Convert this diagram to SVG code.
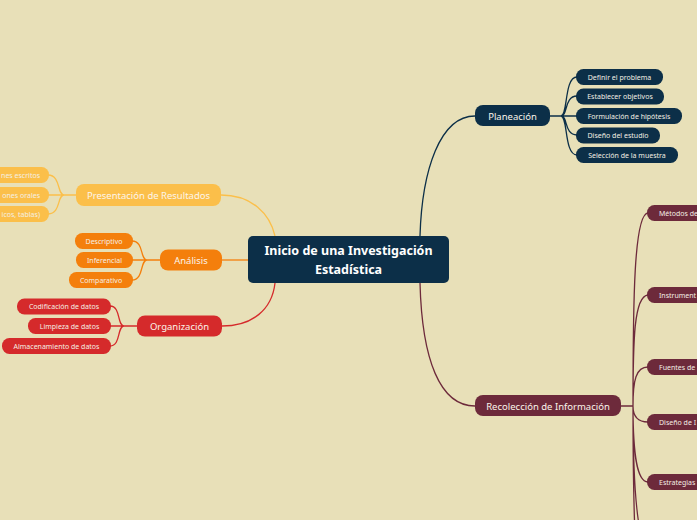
<svg xmlns="http://www.w3.org/2000/svg" width="697" height="520" viewBox="0 0 697 520">
<style>
text{font-family:"Noto Sans","Open Sans","DejaVu Sans",sans-serif;}
.c{fill:none;stroke-width:1.3;}
.t{fill:#f4efe4;font-size:7px;text-anchor:middle;}
.m{fill:#fbf5ea;font-size:9.5px;text-anchor:middle;}
.navy{fill:#0c2f48;}
.mar{fill:#6d2a3b;}
.yel{fill:#fbbf4a;}
.org{fill:#f47f0c;}
.red{fill:#d52a2b;}
</style>
<rect width="697" height="520" fill="#e8e0b8"/>
<g id="connectors">
  <path class="c" stroke="#0c2f48" d="M420,236 C422,170 440,116 475,116"/>
  <path class="c" stroke="#6d2a3b" d="M420,283 C422,360 440,406 475,406"/>
  <path class="c" stroke="#fbbf4a" d="M221,195 C252,195 270,214 275,236"/>
  <path class="c" stroke="#f47f0c" d="M222,260 L248,260"/>
  <path class="c" stroke="#d52a2b" d="M275,283 C272,310 252,326 222,326"/>
  <path class="c" stroke="#0c2f48" d="M550,116 L561,116 M561,116 C568,116 564,77 577,77 M561,116 C568,116 564,96 577,96 M561,116 L577,116 M561,116 C568,116 564,135 577,135 M561,116 C568,116 564,155 577,155"/>
  <path class="c" stroke="#6d2a3b" d="M621,406 L633,406 M633,406 C633,300 634,214 648,213 M633,406 C633,340 634,296 648,295 M633,406 C633,380 636,367 648,367 M633,406 C633,415 636,422 648,422 M633,406 C633,450 636,482 648,482 M633,406 C633,470 636,540 648,550 M633,406 C633,480 634,560 640,600"/>
  <path class="c" stroke="#fbbf4a" d="M76,195 L64,195 M64,195 C57,195 61,175 48,175 M64,195 L48,195 M64,195 C57,195 61,214 48,214"/>
  <path class="c" stroke="#f47f0c" d="M160,260 L147,260 M147,260 C140,260 144,241 132,241 M147,260 L132,260 M147,260 C140,260 144,280 132,280"/>
  <path class="c" stroke="#d52a2b" d="M137,326 L124,326 M124,326 C117,326 121,306 110,306 M124,326 L110,326 M124,326 C117,326 121,346 110,346"/>
</g>
<g id="central">
  <rect x="248" y="236" width="201" height="47" rx="5" class="navy"/>
  <text x="348.5" y="255" fill="#ffffff" font-size="12.5" font-weight="bold" text-anchor="middle">Inicio de una Investigación</text>
  <text x="348.5" y="274" fill="#ffffff" font-size="12.5" font-weight="bold" text-anchor="middle">Estadística</text>
</g>
<g id="planeacion">
  <rect x="475" y="105" width="75" height="21" rx="8" class="navy"/>
  <text x="512.5" y="119.5" class="m">Planeación</text>
</g>
<g id="definir"><rect x="576" y="69" width="87" height="16" rx="7.5" class="navy"/><text x="619.5" y="79.5" class="t">Definir el problema</text></g>
<g id="establecer"><rect x="576" y="88.5" width="88" height="16" rx="7.5" class="navy"/><text x="620" y="99" class="t">Establecer objetivos</text></g>
<g id="formulacion"><rect x="576" y="108" width="106" height="16" rx="7.5" class="navy"/><text x="629" y="118.5" class="t">Formulación de hipótesis</text></g>
<g id="diseno-estudio"><rect x="576" y="127.5" width="84" height="16" rx="7.5" class="navy"/><text x="618" y="138" class="t">Diseño del estudio</text></g>
<g id="seleccion"><rect x="576" y="147" width="102" height="16" rx="7.5" class="navy"/><text x="627" y="157.5" class="t">Selección de la muestra</text></g>
<g id="recoleccion">
  <rect x="475" y="395" width="146" height="21" rx="8" class="mar"/>
  <text x="548" y="409.5" class="m">Recolección de Información</text>
</g>
<g id="metodos"><rect x="647" y="205" width="80" height="16" rx="7.5" class="mar"/><text x="659" y="215.5" class="t" text-anchor="start" style="text-anchor:start">Métodos de</text></g>
<g id="instrumentos"><rect x="647" y="287" width="80" height="16" rx="7.5" class="mar"/><text x="659" y="297.5" class="t" style="text-anchor:start">Instrument</text></g>
<g id="fuentes"><rect x="647" y="359" width="80" height="16" rx="7.5" class="mar"/><text x="659" y="369.5" class="t" style="text-anchor:start">Fuentes de</text></g>
<g id="diseno-i"><rect x="647" y="414" width="80" height="16" rx="7.5" class="mar"/><text x="659" y="424.5" class="t" style="text-anchor:start">Diseño de I</text></g>
<g id="estrategias"><rect x="647" y="474" width="80" height="16" rx="7.5" class="mar"/><text x="659" y="484.5" class="t" style="text-anchor:start">Estrategias</text></g>
<g id="presentacion">
  <rect x="76" y="184" width="145" height="22" rx="8" class="yel"/>
  <text x="148.5" y="198.5" class="m">Presentación de Resultados</text>
</g>
<g id="escritos"><rect x="-40" y="167" width="89" height="16" rx="7.5" class="yel"/><text x="40" y="177.5" class="t" style="text-anchor:end">nes escritos</text></g>
<g id="orales"><rect x="-40" y="187" width="89" height="16" rx="7.5" class="yel"/><text x="40" y="197.5" class="t" style="text-anchor:end">ones orales</text></g>
<g id="tablas"><rect x="-40" y="206" width="89" height="16" rx="7.5" class="yel"/><text x="40" y="216.5" class="t" style="text-anchor:end">icos, tablas)</text></g>
<g id="analisis">
  <rect x="160" y="249.5" width="62" height="21" rx="8" class="org"/>
  <text x="191" y="264" class="m">Análisis</text>
</g>
<g id="descriptivo"><rect x="75" y="233" width="58" height="16" rx="7.5" class="org"/><text x="104" y="243.5" class="t">Descriptivo</text></g>
<g id="inferencial"><rect x="76" y="252" width="57" height="16" rx="7.5" class="org"/><text x="104.5" y="262.5" class="t">Inferencial</text></g>
<g id="comparativo"><rect x="69" y="272" width="64" height="16" rx="7.5" class="org"/><text x="101" y="282.5" class="t">Comparativo</text></g>
<g id="organizacion">
  <rect x="137" y="315.5" width="85" height="21" rx="8" class="red"/>
  <text x="179.5" y="330" class="m">Organización</text>
</g>
<g id="codificacion"><rect x="17" y="298.5" width="94" height="16" rx="7.5" class="red"/><text x="64" y="309" class="t">Codificación de datos</text></g>
<g id="limpieza"><rect x="28" y="318" width="83" height="16" rx="7.5" class="red"/><text x="69.5" y="328.5" class="t">Limpieza de datos</text></g>
<g id="almacenamiento"><rect x="2" y="338" width="109" height="16" rx="7.5" class="red"/><text x="56.5" y="348.5" class="t">Almacenamiento de datos</text></g>
</svg>
